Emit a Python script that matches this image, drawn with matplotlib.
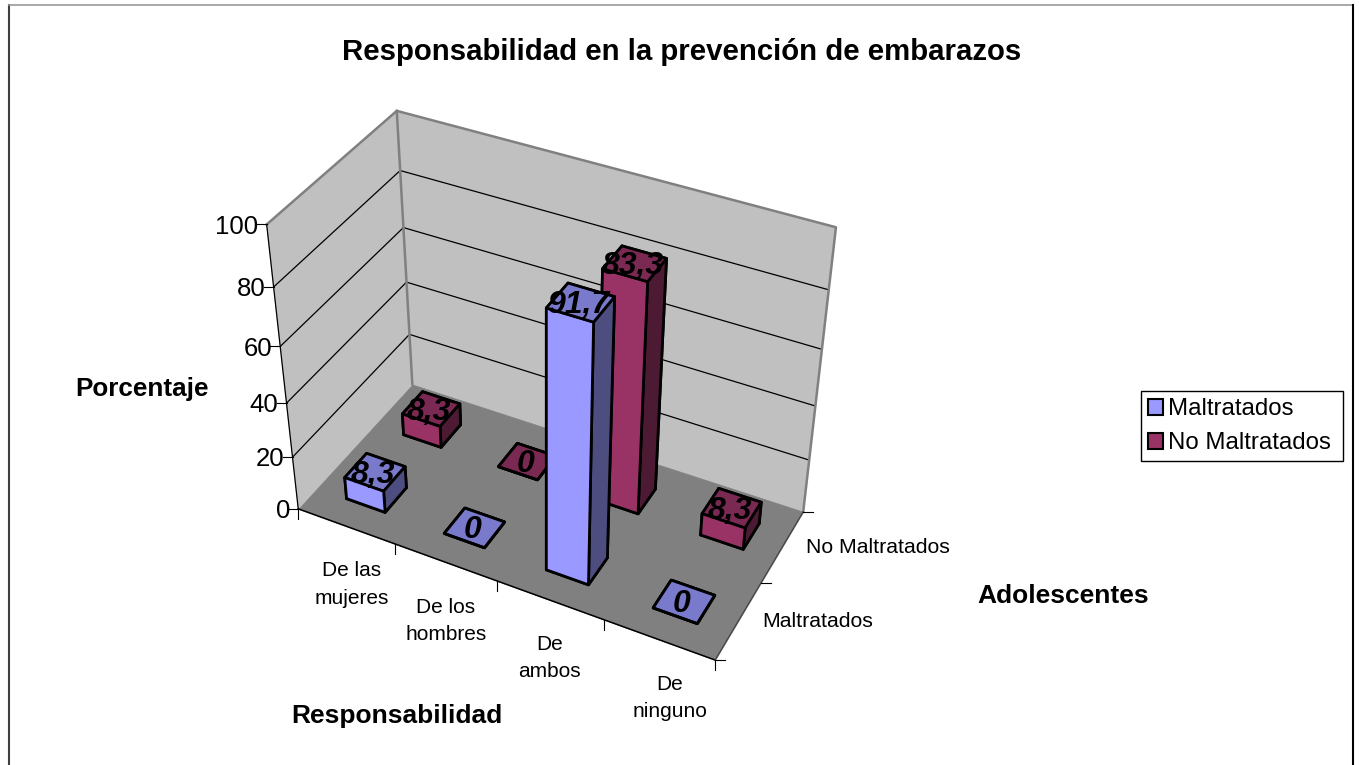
import numpy as np
import matplotlib
matplotlib.use('Agg')
import matplotlib.pyplot as plt
from matplotlib.lines import Line2D
from matplotlib.patches import Patch
from mpl_toolkits.mplot3d.art3d import Poly3DCollection

categories = ['De las\nmujeres', 'De los\nhombres', 'De\nambos', 'De\nninguno']
series_names = ['Maltratados', 'No Maltratados']
maltratados = [8.3, 0, 91.7, 0]
no_maltratados = [8.3, 0, 83.3, 8.3]
value_ticks = [0, 20, 40, 60, 80, 100]

W, H = 1359, 765
plt.rcParams['font.family'] = ['Liberation Sans', 'DejaVu Sans']

# (category pos, series pos, value) -> picture pixel of the chart box corners
anchors_3d = [(0, 0, 0), (4, 0, 0), (4, 2, 0), (0, 2, 0), (0, 0, 100), (0, 2, 100), (4, 2, 100)]
anchors_px = [(298.3, 509), (715, 660), (803.3, 511.7), (412.3, 384.3),
              (266.7, 224.3), (396.7, 111), (836, 227.3)]


def fit_projection(pts3d, pts2d):
    rows = []
    for (x, y, z), (u, v) in zip(pts3d, pts2d):
        rows.append([x, y, z, 1, 0, 0, 0, 0, -u * x, -u * y, -u * z, -u])
        rows.append([0, 0, 0, 0, x, y, z, 1, -v * x, -v * y, -v * z, -v])
    p = np.linalg.svd(np.array(rows, dtype=float))[2][-1].reshape(3, 4)
    p = p / p[2, 3]
    depth = [-0.1, 0.2, -0.002, 1.0]
    return np.array([p[0], p[1], depth, p[2]])


M = fit_projection(anchors_3d, anchors_px)


def project(x, y, z):
    u, v, _, w = M @ np.array([x, y, z, 1.0])
    return u / w, v / w


fig = plt.figure(figsize=(W / 100, H / 100), dpi=100)
ax = fig.add_axes([0, 0, 1, 1], projection='3d', computed_zorder=False)
ax.get_proj = lambda: M
ax.apply_aspect = lambda position=None: None
ax.set_axis_off()
ax.viewLim.intervalx = (0, W)
ax.viewLim.intervaly = (H, 0)

top = value_ticks[-1]
n_cat, n_ser = len(categories), len(series_names)


def line3d(points, **kw):
    us, vs = zip(*[project(*p) for p in points])
    ax.add_artist(Line2D(us, vs, **kw))


def tick_line(x, y, z, dx, dy):
    u, v = project(x, y, z)
    ax.add_artist(Line2D([u, u + dx], [v, v + dy], color='black', lw=0.8, zorder=3))


# walls and floor
floor = [(0, 0, 0), (n_cat, 0, 0), (n_cat, n_ser, 0), (0, n_ser, 0)]
left_wall = [(0, 0, 0), (0, n_ser, 0), (0, n_ser, top), (0, 0, top)]
back_wall = [(0, n_ser, 0), (n_cat, n_ser, 0), (n_cat, n_ser, top), (0, n_ser, top)]
ax.add_collection3d(Poly3DCollection([left_wall, back_wall], facecolor='#C0C0C0', edgecolor='#C0C0C0', linewidth=0.5, zorder=1))
ax.add_collection3d(Poly3DCollection([floor], facecolor='#808080', edgecolor='#808080', linewidth=0.5, zorder=1.5))

for v in value_ticks[1:-1]:
    line3d([(0, 0, v), (0, n_ser, v), (n_cat, n_ser, v)], color='black', lw=0.9, zorder=2)

wall_edge = dict(color='#808080', lw=1.8, zorder=2.5)
line3d([(0, 0, top), (0, n_ser, top), (n_cat, n_ser, top), (n_cat, n_ser, 0)], **wall_edge)
line3d([(0, n_ser, 0), (0, n_ser, top)], **wall_edge)

# axis lines
line3d([(0, 0, 0), (0, 0, top)], color='black', lw=0.9, zorder=3)
line3d([(0, 0, 0), (n_cat, 0, 0)], color='black', lw=1.1, zorder=3)
line3d([(n_cat, 0, 0), (n_cat, n_ser, 0)], color='#404040', lw=0.8, zorder=3)

for v in value_ticks:
    tick_line(0, 0, v, -10, 0)
    ax.annotate(str(v), project(0, 0, v), xytext=(-6, -1.5), textcoords='offset points',
                ha='right', va='center', fontsize=18.5, zorder=6)

for i in range(n_cat + 1):
    tick_line(i, 0, 0, 0, 10)
for j in range(n_ser + 1):
    tick_line(n_cat, j, 0, 10, 0)

cat_label_dx = [4, 0, 0, 8]
for i, label in enumerate(categories):
    ax.annotate(label, project(i + 0.5, 0, 0), xytext=(cat_label_dx[i], -42), textcoords='offset points',
                ha='center', va='center', fontsize=15, linespacing=1.55, zorder=6)
for j, label in enumerate(series_names):
    ax.annotate(label, project(n_cat, j + 0.5, 0), xytext=(17, -0.8), textcoords='offset points',
                ha='left', va='center', fontsize=15.3, zorder=6)

# bars: bottom, top, front, back, left, right
blue_faces = ['#7A7ACC', '#7A7ACC', '#9999FF', '#9999FF', '#4D4D80', '#4D4D80']
purple_faces = ['#7A2952', '#7A2952', '#993366', '#993366', '#4D1A33', '#4D1A33']
bar_start_x, bar_start_y = 0.31, 0.31
bar_size_x, bar_size_y = 0.40, 0.37
series_values = [maltratados, no_maltratados]
series_faces = [blue_faces, purple_faces]

for j in [1, 0]:
    for i, val in enumerate(series_values[j]):
        ax.bar3d(i + bar_start_x, j + bar_start_y, 0, bar_size_x, bar_size_y, val,
                 color=series_faces[j], shade=False, edgecolor='black', linewidth=2, zorder=4 + (1 - j) * 0.1)

for j in [1, 0]:
    for i, val in enumerate(series_values[j]):
        ax.annotate(f'{val:g}'.replace('.', ','), project(i + 0.5, j + 0.5, val), xytext=(-1, -2.5),
                    textcoords='offset points', ha='center', va='center',
                    fontsize=23, fontweight='bold', fontstyle='italic', color='black', zorder=7)

# titles
fig.text(682 / W, 1 - 52 / H, 'Responsabilidad en la prevención de embarazos', ha='center', va='center',
         fontsize=21.2, fontweight='bold')
fig.text(142 / W, 1 - 389 / H, 'Porcentaje', ha='center', va='center', fontsize=18.8, fontweight='bold')
fig.text(1063 / W, 1 - 596 / H, 'Adolescentes', ha='center', va='center', fontsize=19, fontweight='bold')
fig.text(397 / W, 1 - 716 / H, 'Responsabilidad', ha='center', va='center', fontsize=19, fontweight='bold')

# legend
handles = [Patch(facecolor=c, edgecolor='black', linewidth=1.5) for c in ('#9999FF', '#993366')]
leg = fig.legend(handles, series_names, loc='upper left', mode='expand',
                 bbox_to_anchor=(1141 / W, 1 - 462 / H, 202 / W, 71 / H),
                 fontsize=17.3, frameon=True, fancybox=False, edgecolor='black', framealpha=1,
                 handlelength=0.62, handleheight=0.62, handletextpad=0.22, labelspacing=0.5,
                 borderpad=0.3, borderaxespad=0)
leg.get_frame().set_linewidth(1)

# chart border, runs off the bottom of the picture
fig.add_artist(Line2D([8.5 / W, 8.5 / W], [0, 1 - 4.5 / H], color='#404040', lw=1.5))
fig.add_artist(Line2D([8.5 / W, 1353 / W], [1 - 4.5 / H, 1 - 4.5 / H], color='#999999', lw=1.2))
fig.add_artist(Line2D([1353 / W, 1353 / W], [0, 1 - 4.5 / H], color='black', lw=1.5))

fig.savefig('out.png', dpi=100)
